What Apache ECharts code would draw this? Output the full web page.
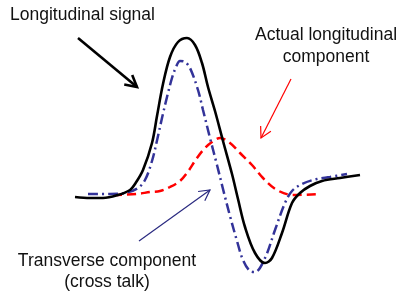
<!DOCTYPE html>
<html>
<head>
<meta charset="utf-8">
<script src="https://cdn.jsdelivr.net/npm/echarts@6/dist/echarts.min.js"></script>
<style>html,body{margin:0;padding:0;background:#fff}#c{width:401px;height:294px}</style>
</head>
<body>
<div id="c"></div>
<script>
// time (arbitrary units) and amplitude (arbitrary units)
const blackT = [75,90,103,118,130,135,143,152,157,163,170,178,187,195,202,208,215,223,232,238,245,255,265,272,282,292,300,310,322,340,360];
const blackV = [-3,-4,-4,-1,4,10,24,51,78,110,137,152,156,149,131,107,83,53,20,-5,-33,-59,-69,-64,-39,-9,1,8,13,16,19];
const blueT = [88,110,125,138,145,152,158,162,167,172,176,180,185,190,198,203,210,217,223,230,237,243,250,255,265,275,285,292,302,317,330,347];
const blueV = [0,0,1,6,14,33,58,76,97,116,127,133,132,126,104,84,56,29,5,-22,-47,-66,-77,-78,-64,-36,-9,3,10,15,17,20];
const redT = [113,137,150,160,170,180,187,197,205,212,220,230,240,252,263,277,293,320];
const redV = [-1,0,2,3,7,13,21,36,46,52,56,51,41,29,16,4,-1,0];

const labels = {
  longitudinal: 'Longitudinal signal',
  actual: 'Actual longitudinal\ncomponent',
  transverse: 'Transverse component\n(cross talk)'
};

const zip = (t, v) => t.map((x, i) => [x, v[i]]);
const chart = echarts.init(document.getElementById('c'));
chart.setOption({
  animation: false,
  grid: {left: 0, right: 0, top: 0, bottom: 0},
  xAxis: {type: 'value', min: 0, max: 401, show: false},
  yAxis: {type: 'value', min: -100, max: 194, show: false},
  series: [
    {type: 'line', data: zip(redT, redV), smooth: 0.35, showSymbol: false,
     lineStyle: {color: '#ff0000', width: 2.5, type: [9, 5]}},
    {type: 'line', data: zip(blueT, blueV), smooth: 0.35, showSymbol: false,
     lineStyle: {color: '#333399', width: 2.5, type: [10, 4, 2, 4]}},
    {type: 'line', data: zip(blackT, blackV), smooth: 0.35, showSymbol: false,
     lineStyle: {color: '#000000', width: 2.6}}
  ]
});

const px = (p) => chart.convertToPixel({gridIndex: 0}, p);
function arrow(from, to, color, width, len) {
  const a = px(from), b = px(to);
  const ang = Math.atan2(b[1] - a[1], b[0] - a[0]);
  const spread = 0.5;
  const p1 = [b[0] - len * Math.cos(ang - spread), b[1] - len * Math.sin(ang - spread)];
  const p2 = [b[0] - len * Math.cos(ang + spread), b[1] - len * Math.sin(ang + spread)];
  return [
    {type: 'polyline', shape: {points: [a, b]}, style: {stroke: color, lineWidth: width, fill: null}},
    {type: 'polyline', shape: {points: [p1, b, p2]}, style: {stroke: color, lineWidth: width, fill: null, lineJoin: 'miter'}}
  ];
}
function text(str, at, align) {
  const p = px(at);
  return {type: 'text', x: p[0], y: p[1],
    style: {text: str, fill: '#111', font: '17.5px "Liberation Sans", Arial, sans-serif',
      align: align, verticalAlign: 'middle', lineHeight: 21.5}};
}
chart.setOption({
  graphic: [].concat(
    arrow([78, 156], [137, 107], '#000000', 2.6, 13),
    arrow([291, 115], [261, 56], '#ff0000', 1.2, 12),
    arrow([139, -47], [210, 4], '#2a2a80', 1.2, 12),
    [text(labels.longitudinal, [10, 179], 'left'),
     text(labels.actual, [326, 148], 'center'),
     text(labels.transverse, [107, -77.5], 'center')]
  )
});
</script>
</body>
</html>
